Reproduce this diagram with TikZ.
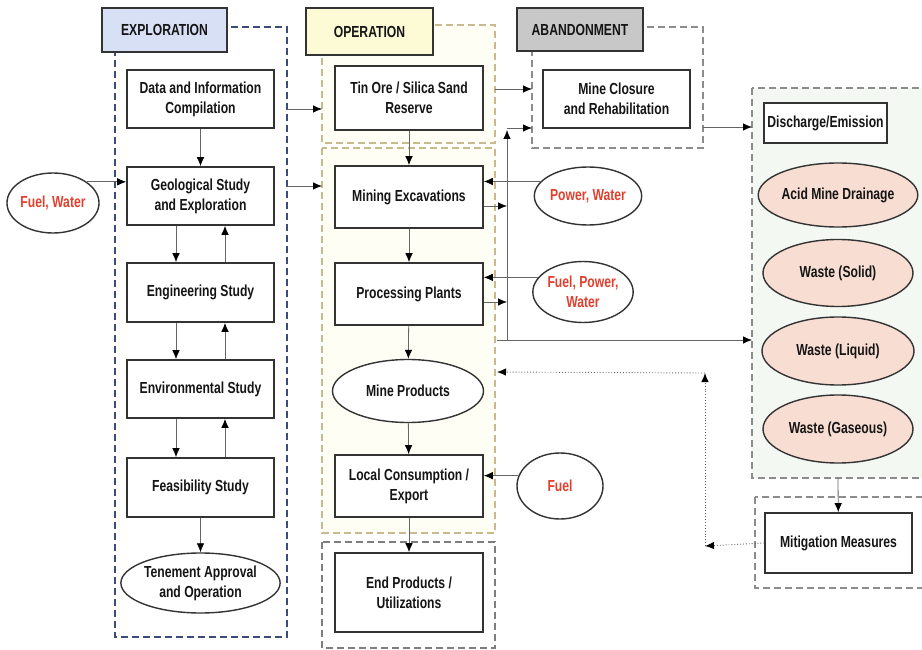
\documentclass[tikz,border=0pt]{standalone}
\usepackage{fontspec}
\setmainfont{Liberation Sans}[FakeStretch=0.76]
\usetikzlibrary{shapes.geometric,arrows.meta}
\definecolor{txt}{HTML}{151515}
\definecolor{redt}{HTML}{E2402E}
\definecolor{bord}{HTML}{333333}
\definecolor{conn}{HTML}{666666}
\definecolor{expblue}{HTML}{D8E0F6}
\definecolor{opyel}{HTML}{FDFAD6}
\definecolor{abgray}{HTML}{C8C8C8}
\definecolor{pink}{HTML}{F8DDD2}
\definecolor{navy}{HTML}{3C4A7C}
\definecolor{tan}{HTML}{C9B98E}
\definecolor{frgray}{HTML}{8C8C8C}
\definecolor{opfill}{HTML}{FFFEF5}
\definecolor{disfill}{HTML}{F3F8F2}
\tikzset{
  every node/.style={font=\fontsize{16}{20}\selectfont\bfseries, text=txt, align=center},
  stepbox/.style={draw=bord, line width=1.6pt, fill=white, rectangle, minimum width=147pt, inner sep=2pt},
  ovalbox/.style={draw=bord, line width=1.4pt, fill=white, ellipse, inner sep=0pt},
  pinkoval/.style={ovalbox, fill=pink},
  redtext/.style={text=redt},
  header/.style={draw=bord, line width=1.8pt, rectangle, inner sep=2pt},
  frame/.style={dashed, dash pattern=on 7pt off 4pt, line width=1.2pt},
  arr/.style={draw=conn, line width=0.8pt, -{Latex[length=9pt,width=7.5pt,color=black]}},
  dotarr/.style={draw=conn, line width=0.9pt, dotted, -{Latex[length=9pt,width=7.5pt,color=black]}},
}
\begin{document}
\begin{tikzpicture}[x=1pt,y=-1pt]
\useasboundingbox (0,0) rectangle (922,650);
\clip (0,0) rectangle (922,650);
\fill[white] (0,0) rectangle (922,650);

% frames
\draw[frame, draw=navy] (115,27) rectangle (287,637);
\filldraw[frame, draw=tan, fill=opfill] (322,25) rectangle (495,143);
\filldraw[frame, draw=tan, fill=opfill] (322,148) rectangle (495,533);
\draw[frame, draw=frgray!90!black, line width=1.5pt] (322,542) rectangle (495,648);
\draw[frame, draw=frgray] (532,27) rectangle (703,148);
\filldraw[frame, draw=frgray, fill=disfill] (752,88) rectangle (935,478);
\draw[frame, draw=frgray] (755,497) rectangle (935,588);

% headers
\node[header, fill=expblue, minimum width=125pt, minimum height=44pt] (hexp) at (164.5,30) {EXPLORATION};
\node[header, fill=opyel, minimum width=127pt, minimum height=47pt] (hop) at (369.5,31.5) {OPERATION};
\node[header, fill=abgray, minimum width=126pt, minimum height=43pt] (hab) at (580,29.5) {ABANDONMENT};

% exploration column
\node[stepbox, minimum height=58pt] (data) at (200.5,99) {Data and Information\\Compilation};
\node[stepbox, minimum height=58pt] (geo) at (200.5,196) {Geological Study\\and Exploration};
\node[stepbox, minimum height=59pt] (eng) at (200.5,292.5) {Engineering Study};
\node[stepbox, minimum height=58pt] (env) at (200.5,389) {Environmental Study};
\node[stepbox, minimum height=59pt] (feas) at (200.5,487.5) {Feasibility Study};
\node[ovalbox, minimum width=147pt, minimum height=60pt] (ten) at (200.5,583) {Tenement Approval\\and Operation};
\node[ovalbox, redtext, minimum width=82pt, minimum height=60pt] (fw) at (53,203) {Fuel, Water};

% operation column
\node[stepbox, minimum width=148pt, minimum height=64pt] (tin) at (409,98) {Tin Ore / Silica Sand\\Reserve};
\node[stepbox, minimum width=148pt, minimum height=62pt] (mine) at (409,197) {Mining Excavations};
\node[stepbox, minimum width=148pt, minimum height=62pt] (proc) at (409,294) {Processing Plants};
\node[ovalbox, minimum width=151pt, minimum height=63pt] (prod) at (408,391) {Mine Products};
\node[stepbox, minimum width=148pt, minimum height=62pt] (local) at (409,486) {Local Consumption /\\Export};
\node[stepbox, minimum width=148pt, minimum height=79pt] (endp) at (409,592.5) {End Products /\\Utilizations};

% inputs
\node[ovalbox, redtext, minimum width=90pt, minimum height=58pt] (pw) at (588,196) {Power, Water};
\node[ovalbox, redtext, minimum width=88pt, minimum height=61pt] (fpw) at (583,292) {Fuel, Power,\\Water};
\node[ovalbox, redtext, minimum width=86pt, minimum height=66pt] (fuel) at (560,486) {Fuel};

% abandonment
\node[stepbox, minimum height=58pt] (closure) at (616.5,99) {Mine Closure\\and Rehabilitation};

% discharge
\node[stepbox, minimum width=123pt, minimum height=40pt] (dis) at (825.5,123) {Discharge/Emission};
\node[pinkoval, minimum width=153pt, minimum height=64pt] (amd) at (838,195) {Acid Mine Drainage};
\node[pinkoval, minimum width=150pt, minimum height=67pt] (ws) at (838,273) {Waste (Solid)};
\node[pinkoval, minimum width=152pt, minimum height=68pt] (wl) at (838,351) {Waste (Liquid)};
\node[pinkoval, minimum width=150pt, minimum height=68pt] (wg) at (838,429) {Waste (Gaseous)};
\node[stepbox, minimum width=147pt, minimum height=60pt] (mit) at (838.5,543) {Mitigation Measures};

% coordinates
\coordinate (e1) at (287,109);
\coordinate (o1) at (322,109);
\coordinate (e2) at (287,186);
\coordinate (o2) at (322,186);
\coordinate (t1) at (495,89);
\coordinate (a1) at (532,89);
\coordinate (vbot) at (507,340);
\coordinate (vtop) at (507,130);
\coordinate (vcorner) at (507,128);
\coordinate (a2) at (532,128);
\coordinate (me) at (507,206);
\coordinate (pe) at (507,302);
\coordinate (hstart) at (497,340);
\coordinate (d1) at (752,340);
\coordinate (ab1) at (703,127);
\coordinate (d2) at (752,127);
\coordinate (disbot) at (838,478);
\coordinate (m1) at (705,546);
\coordinate (m2) at (705,373);
\coordinate (m3) at (497,372);

% exploration connectors
\draw[arr] (data) -- (geo);
\draw[arr] ([xshift=-24.5pt]geo.south) -- ([xshift=-24.5pt]eng.north);
\draw[arr] ([xshift=24.5pt]eng.north) -- ([xshift=24.5pt]geo.south);
\draw[arr] ([xshift=-24.5pt]eng.south) -- ([xshift=-24.5pt]env.north);
\draw[arr] ([xshift=24.5pt]env.north) -- ([xshift=24.5pt]eng.south);
\draw[arr] ([xshift=-24.5pt]env.south) -- ([xshift=-24.5pt]feas.north);
\draw[arr] ([xshift=24.5pt]feas.north) -- ([xshift=24.5pt]env.south);
\draw[arr] (feas) -- (ten);
\draw[arr] (fw.32) -- (fw.32 -| geo.west);
\draw[arr] (e1) -- (o1);
\draw[arr] (e2) -- (o2);

% operation connectors
\draw[arr] (tin) -- (mine);
\draw[arr] (mine) -- (proc);
\draw[arr] (proc) -- (prod);
\draw[arr] (prod) -- (local);
\draw[arr] (local) -- (endp);
\draw[arr] (t1) -- (a1);
\draw[arr] (pw.163) -- (pw.163 -| mine.east);
\draw[arr] (mine.east |- me) -- (me);
\draw[arr] (fpw.162) -- (fpw.162 -| proc.east);
\draw[arr] (proc.east |- pe) -- (pe);
\draw[arr] (fuel.166) -- (fuel.166 -| local.east);
\draw[arr] (vbot) -- (vtop);
\draw[arr] (vcorner) -- (a2);
\draw[arr] (hstart) -- (d1);
\draw[arr] (ab1) -- (d2);
\draw[arr] (disbot) -- (mit);
\draw[dotarr] (mit.west) -- (m1);
\draw[dotarr] (m1) -- (m2);
\draw[dotarr] (m2) -- (m3);
\end{tikzpicture}
\end{document}
